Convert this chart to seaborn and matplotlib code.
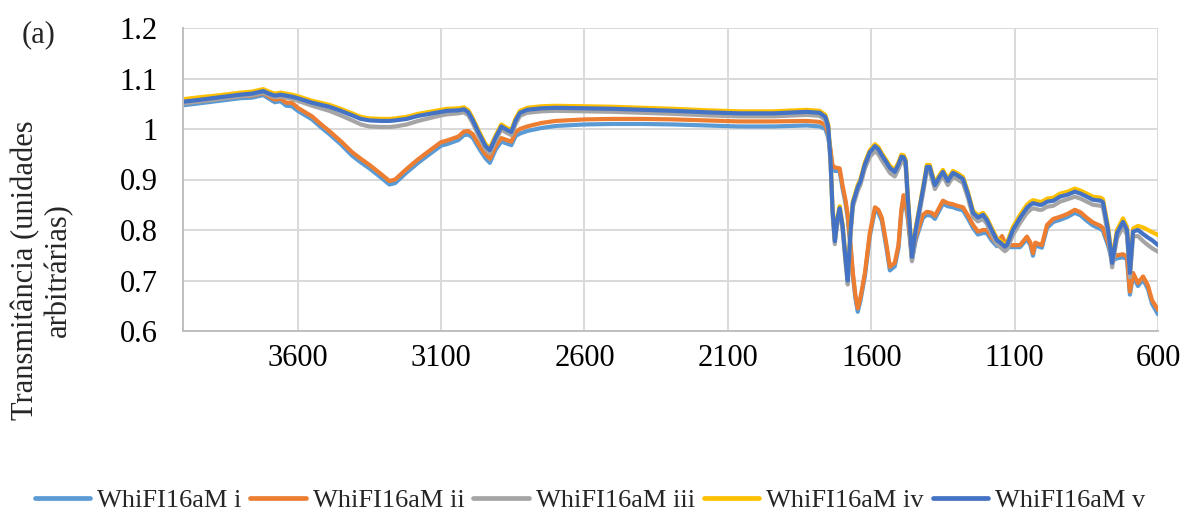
import matplotlib
matplotlib.use("Agg")
import matplotlib.pyplot as plt
import pandas as pd
import seaborn as sns

# ---------------- data ----------------
wavenumber = [4000, 3940, 3870, 3800, 3760, 3720, 3700, 3680, 3660, 3640, 3620, 3600,
              3550, 3520, 3490, 3450, 3410, 3380, 3350, 3310, 3280, 3260, 3220, 3180,
              3150, 3100, 3080, 3040, 3020, 3005, 2990, 2965, 2945, 2930, 2910, 2890,
              2870, 2855, 2840, 2825, 2800, 2750, 2700, 2600, 2500, 2400, 2290, 2170,
              2060, 1940, 1825, 1780, 1760, 1750, 1742, 1735, 1727, 1718, 1710, 1700,
              1690, 1682, 1672, 1664, 1655, 1647, 1638, 1622, 1605, 1587, 1575, 1563,
              1548, 1535, 1518, 1505, 1495, 1487, 1480, 1472, 1458, 1445, 1437, 1420,
              1406, 1396, 1389, 1378, 1362, 1350, 1333, 1315, 1301, 1280, 1262, 1245,
              1228, 1210, 1197, 1180, 1162, 1150, 1144, 1134, 1127, 1106, 1081, 1057,
              1045, 1036, 1028, 1015, 1005, 987, 965, 942, 915, 890, 870, 848,
              827, 800, 792, 774, 760, 743, 722, 708, 698, 687, 670, 652,
              635, 621, 600]

whi_v = [1.054, 1.058, 1.063, 1.068, 1.070, 1.075, 1.070, 1.066, 1.068, 1.066, 1.064, 1.061,
         1.052, 1.048, 1.044, 1.036, 1.027, 1.020, 1.017, 1.016, 1.016, 1.017, 1.020, 1.026,
         1.029, 1.034, 1.036, 1.037, 1.039, 1.033, 1.018, 0.988, 0.966, 0.958, 0.983, 1.005,
         0.998, 0.994, 1.017, 1.032, 1.038, 1.041, 1.042, 1.041, 1.040, 1.038, 1.036, 1.033,
         1.031, 1.031, 1.034, 1.032, 1.024, 1.005, 0.940, 0.840, 0.778, 0.822, 0.843, 0.808,
         0.745, 0.700, 0.800, 0.853, 0.870, 0.885, 0.896, 0.930, 0.954, 0.966, 0.960, 0.948,
         0.935, 0.923, 0.915, 0.930, 0.945, 0.944, 0.935, 0.860, 0.747, 0.800, 0.826, 0.879,
         0.925, 0.925, 0.910, 0.889, 0.905, 0.915, 0.897, 0.913, 0.909, 0.901, 0.870, 0.834,
         0.825, 0.830, 0.820, 0.800, 0.780, 0.775, 0.772, 0.767, 0.770, 0.800, 0.824, 0.844,
         0.850, 0.853, 0.852, 0.850, 0.850, 0.856, 0.858, 0.866, 0.870, 0.876, 0.872, 0.866,
         0.860, 0.858, 0.855, 0.800, 0.735, 0.794, 0.816, 0.800, 0.715, 0.797, 0.800, 0.792,
         0.785, 0.780, 0.770]

whi_iv = [1.059, 1.063, 1.067, 1.072, 1.074, 1.079, 1.074, 1.070, 1.072, 1.070, 1.068, 1.065,
          1.056, 1.052, 1.048, 1.040, 1.031, 1.024, 1.021, 1.020, 1.020, 1.021, 1.024, 1.030,
          1.033, 1.038, 1.040, 1.041, 1.043, 1.037, 1.022, 0.992, 0.970, 0.962, 0.987, 1.009,
          1.002, 0.998, 1.021, 1.036, 1.042, 1.045, 1.046, 1.045, 1.044, 1.042, 1.040, 1.037,
          1.035, 1.035, 1.038, 1.036, 1.028, 1.009, 0.944, 0.844, 0.782, 0.826, 0.847, 0.812,
          0.749, 0.704, 0.804, 0.857, 0.874, 0.889, 0.900, 0.934, 0.958, 0.970, 0.964, 0.952,
          0.939, 0.927, 0.919, 0.934, 0.949, 0.948, 0.939, 0.864, 0.751, 0.804, 0.830, 0.883,
          0.929, 0.929, 0.914, 0.893, 0.909, 0.919, 0.901, 0.917, 0.913, 0.905, 0.874, 0.838,
          0.829, 0.834, 0.824, 0.804, 0.784, 0.779, 0.776, 0.771, 0.774, 0.806, 0.830, 0.850,
          0.856, 0.859, 0.858, 0.856, 0.856, 0.862, 0.864, 0.872, 0.876, 0.882, 0.878, 0.872,
          0.866, 0.864, 0.861, 0.806, 0.741, 0.800, 0.823, 0.806, 0.720, 0.803, 0.808, 0.805,
          0.800, 0.796, 0.790]

whi_iii = [1.051, 1.055, 1.060, 1.065, 1.067, 1.072, 1.067, 1.063, 1.064, 1.062, 1.060, 1.056,
           1.046, 1.041, 1.036, 1.027, 1.017, 1.009, 1.005, 1.004, 1.004, 1.005, 1.009, 1.016,
           1.020, 1.027, 1.029, 1.031, 1.033, 1.027, 1.012, 0.982, 0.960, 0.952, 0.977, 0.999,
           0.992, 0.988, 1.010, 1.026, 1.032, 1.035, 1.036, 1.035, 1.034, 1.032, 1.030, 1.027,
           1.025, 1.025, 1.028, 1.026, 1.018, 0.999, 0.934, 0.834, 0.772, 0.816, 0.836, 0.801,
           0.738, 0.692, 0.793, 0.846, 0.863, 0.878, 0.889, 0.922, 0.945, 0.956, 0.950, 0.938,
           0.925, 0.913, 0.906, 0.921, 0.936, 0.935, 0.926, 0.851, 0.738, 0.792, 0.818, 0.871,
           0.917, 0.917, 0.902, 0.881, 0.897, 0.907, 0.889, 0.905, 0.901, 0.893, 0.862, 0.826,
           0.817, 0.822, 0.812, 0.792, 0.772, 0.766, 0.763, 0.758, 0.761, 0.790, 0.814, 0.834,
           0.840, 0.843, 0.842, 0.840, 0.840, 0.846, 0.848, 0.856, 0.861, 0.866, 0.862, 0.856,
           0.850, 0.848, 0.845, 0.790, 0.726, 0.784, 0.806, 0.790, 0.706, 0.787, 0.788, 0.778,
           0.770, 0.764, 0.757]

whi_ii = [1.051, 1.055, 1.060, 1.065, 1.066, 1.071, 1.064, 1.058, 1.060, 1.052, 1.052, 1.042,
          1.025, 1.010, 0.996, 0.976, 0.954, 0.941, 0.929, 0.911, 0.897, 0.900, 0.921, 0.940,
          0.953, 0.974, 0.977, 0.985, 0.995, 0.996, 0.990, 0.966, 0.950, 0.941, 0.966, 0.982,
          0.978, 0.975, 0.994, 1.000, 1.005, 1.012, 1.016, 1.019, 1.020, 1.020, 1.019, 1.017,
          1.015, 1.015, 1.016, 1.014, 1.008, 0.990, 0.960, 0.928, 0.924, 0.923, 0.922, 0.888,
          0.860, 0.830, 0.770, 0.715, 0.670, 0.645, 0.665, 0.715, 0.794, 0.845, 0.840, 0.824,
          0.775, 0.727, 0.735, 0.770, 0.840, 0.869, 0.855, 0.826, 0.747, 0.785, 0.800, 0.830,
          0.836, 0.835, 0.834, 0.828, 0.845, 0.858, 0.853, 0.851, 0.848, 0.845, 0.828, 0.810,
          0.797, 0.800, 0.800, 0.785, 0.774, 0.783, 0.788, 0.775, 0.770, 0.770, 0.770, 0.787,
          0.775, 0.754, 0.775, 0.772, 0.770, 0.810, 0.822, 0.826, 0.832, 0.840, 0.835, 0.824,
          0.815, 0.808, 0.804, 0.775, 0.745, 0.750, 0.752, 0.747, 0.678, 0.715, 0.695, 0.708,
          0.690, 0.661, 0.642]

whi_i = [1.047, 1.051, 1.056, 1.061, 1.062, 1.067, 1.060, 1.053, 1.055, 1.046, 1.045, 1.036,
         1.019, 1.004, 0.990, 0.970, 0.947, 0.934, 0.922, 0.904, 0.890, 0.893, 0.914, 0.933,
         0.946, 0.967, 0.970, 0.978, 0.988, 0.989, 0.983, 0.959, 0.942, 0.933, 0.959, 0.975,
         0.971, 0.968, 0.986, 0.991, 0.996, 1.002, 1.006, 1.009, 1.010, 1.010, 1.009, 1.007,
         1.005, 1.005, 1.007, 1.005, 1.000, 0.983, 0.952, 0.920, 0.917, 0.917, 0.916, 0.882,
         0.854, 0.824, 0.764, 0.709, 0.664, 0.638, 0.659, 0.709, 0.788, 0.839, 0.834, 0.818,
         0.768, 0.720, 0.728, 0.764, 0.834, 0.864, 0.850, 0.821, 0.740, 0.779, 0.794, 0.824,
         0.830, 0.829, 0.828, 0.822, 0.839, 0.852, 0.847, 0.845, 0.842, 0.839, 0.822, 0.804,
         0.791, 0.794, 0.794, 0.779, 0.768, 0.777, 0.782, 0.770, 0.766, 0.766, 0.766, 0.782,
         0.770, 0.749, 0.770, 0.767, 0.765, 0.804, 0.816, 0.820, 0.826, 0.834, 0.829, 0.818,
         0.809, 0.802, 0.798, 0.769, 0.739, 0.744, 0.746, 0.742, 0.672, 0.709, 0.689, 0.702,
         0.683, 0.654, 0.633]

series_names = ["WhiFI16aM i", "WhiFI16aM ii", "WhiFI16aM iii", "WhiFI16aM iv", "WhiFI16aM v"]
series_values = [whi_i, whi_ii, whi_iii, whi_iv, whi_v]
series_colors = ["#5B9BD5", "#ED7D31", "#A5A5A5", "#FFC000", "#4472C4"]

x_ticks = [3600, 3100, 2600, 2100, 1600, 1100, 600]
y_ticks = [0.6, 0.7, 0.8, 0.9, 1.0, 1.1, 1.2]
y_tick_labels = ["0.6", "0.7", "0.8", "0.9", "1", "1.1", "1.2"]
y_label = "Transmitância (unidades\narbitrárias)"
panel_label = "(a)"

# ---------------- long-form table ----------------
rows = []
for name, vals in zip(series_names, series_values):
    for w, v in zip(wavenumber, vals):
        rows.append({"wavenumber": w, "T": v, "series": name})
df = pd.DataFrame(rows)

# ---------------- plot ----------------
sns.set_theme(style="white")
plt.rcParams["font.family"] = ["Liberation Serif", "DejaVu Serif"]

fig = plt.figure(figsize=(11.87, 5.16), dpi=100)
ax = fig.add_axes([183 / 1187, 1 - 331 / 516, (1158 - 183) / 1187, (331 - 28) / 516])

sns.lineplot(data=df, x="wavenumber", y="T", hue="series", hue_order=series_names,
             palette=series_colors, linewidth=3.0, estimator=None, ax=ax, legend=True)

ax.set_xlim(4000, 600)
ax.set_ylim(0.6, 1.2)
ax.set_xticks(x_ticks)
ax.set_xticklabels([str(t) for t in x_ticks])
ax.set_yticks(y_ticks)
ax.set_yticklabels(y_tick_labels)
ax.grid(True, color="#D9D9D9", linewidth=1.4)
ax.set_axisbelow(True)
for s in ["top", "right"]:
    ax.spines[s].set_visible(False)
for s in ["left", "bottom"]:
    ax.spines[s].set_color("#BFBFBF")
    ax.spines[s].set_linewidth(1.4)
ax.tick_params(axis="x", length=0, pad=9, labelsize=22, colors="black")
ax.tick_params(axis="y", length=0, pad=18, labelsize=22, colors="black")
ax.set_xlabel("")
ax.set_ylabel("")

handles, labels = ax.get_legend_handles_labels()
ax.get_legend().remove()
for h in handles:
    h.set_linewidth(3.4)
fig.legend(handles, labels, loc="center", bbox_to_anchor=(0.497, 1 - 500 / 516), ncol=5,
           frameon=False, fontsize=19, handlelength=2.1, handletextpad=0.25,
           columnspacing=0.35)

fig.text(42 / 1187, 1 - 270 / 516, y_label, rotation=90, ha="center", va="center",
         multialignment="center", fontsize=22, linespacing=1.2)
fig.text(22 / 1187, 1 - 35 / 516, panel_label, ha="left", va="center", fontsize=22)

fig.savefig("out.png", dpi=100)
